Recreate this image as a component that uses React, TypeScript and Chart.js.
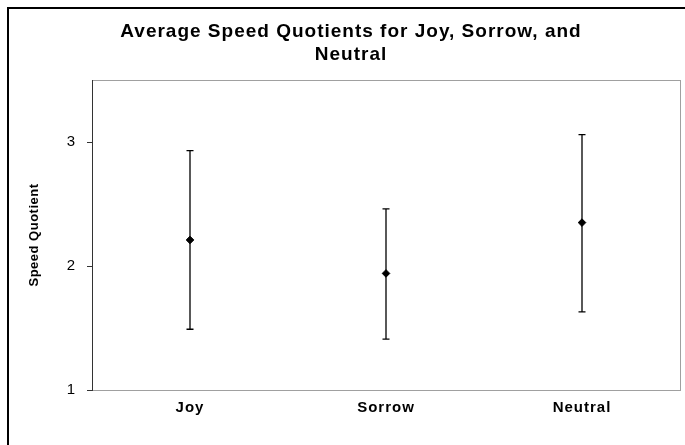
import React, { useEffect, useRef } from 'react';
import { Chart, registerables } from 'chart.js';

Chart.register(...registerables);

const categories = ['Joy', 'Sorrow', 'Neutral'];
const meanValues = [2.21, 1.94, 2.35];
const upperValues = [2.93, 2.46, 3.06];
const lowerValues = [1.49, 1.41, 1.63];
const yTickValues = [1, 2, 3];
const yMin = 1;
const yMax = 3.5;
const titleLines = ['Average Speed Quotients for Joy, Sorrow, and', 'Neutral'];
const yAxisTitle = 'Speed Quotient';

const FONT = "'Liberation Sans', Arial, sans-serif";

function spacingFor(font: string): string {
  if (font.includes('bold 19px')) return '1px';
  if (font.includes('bold 15px')) return '1px';
  if (font.includes('bold 13px')) return '0.5px';
  return '0px';
}

const framePlugin = {
  id: 'frame',
  beforeDraw(chart: any) {
    const ctx = chart.ctx;
    const { left, right, top, bottom } = chart.chartArea;
    ctx.save();
    ctx.fillStyle = '#ffffff';
    ctx.fillRect(0, 0, chart.width, chart.height);
    ctx.strokeStyle = '#000000';
    ctx.lineWidth = 2;
    ctx.strokeRect(8, 8, chart.width + 40, chart.height + 40);
    ctx.strokeStyle = '#a0a0a0';
    ctx.lineWidth = 1;
    ctx.strokeRect(Math.round(left) + 0.5, Math.round(top) + 0.5, Math.round(right - left), Math.round(bottom - top));
    ctx.restore();
  },
};

const errorBarPlugin = {
  id: 'errorBars',
  beforeDatasetsDraw(chart: any) {
    const ctx = chart.ctx;
    const xs = chart.scales.x;
    const ys = chart.scales.y;
    ctx.save();
    ctx.strokeStyle = '#000000';
    ctx.lineWidth = 1.3;
    categories.forEach((_, i) => {
      const px = xs.getPixelForValue(i);
      const yHi = ys.getPixelForValue(upperValues[i]);
      const yLo = ys.getPixelForValue(lowerValues[i]);
      ctx.beginPath();
      ctx.moveTo(px, yHi);
      ctx.lineTo(px, yLo);
      ctx.moveTo(px - 3.5, yHi);
      ctx.lineTo(px + 3.5, yHi);
      ctx.moveTo(px - 3.5, yLo);
      ctx.lineTo(px + 3.5, yLo);
      ctx.stroke();
    });
    ctx.restore();
  },
};

export default function App() {
  const canvasRef = useRef<HTMLCanvasElement | null>(null);

  useEffect(() => {
    const canvas = canvasRef.current;
    if (!canvas) return;
    const ctx2d: any = canvas.getContext('2d');
    if (ctx2d && !ctx2d.__spacingPatched) {
      const origFill = ctx2d.fillText.bind(ctx2d);
      ctx2d.fillText = (text: string, x: number, y: number, maxWidth?: number) => {
        ctx2d.letterSpacing = spacingFor(ctx2d.font);
        if (maxWidth === undefined) origFill(text, x, y);
        else origFill(text, x, y, maxWidth);
        ctx2d.letterSpacing = '0px';
      };
      ctx2d.__spacingPatched = true;
    }
    const chart = new Chart(canvas, {
      type: 'line',
      data: {
        labels: categories,
        datasets: [
          {
            data: meanValues,
            showLine: false,
            pointStyle: 'rectRot',
            pointRadius: 3.8,
            pointHoverRadius: 3.8,
            pointBackgroundColor: '#000000',
            pointBorderColor: '#000000',
            pointBorderWidth: 1,
            borderColor: '#000000',
            backgroundColor: '#000000',
          },
        ],
      },
      options: {
        animation: false,
        responsive: false,
        events: [],
        layout: { padding: { left: 22, right: 5, top: 0, bottom: 15 } },
        plugins: {
          legend: { display: false },
          tooltip: { enabled: false },
          title: {
            display: true,
            text: titleLines,
            color: '#000000',
            font: { family: FONT, size: 19, weight: 'bold', lineHeight: 23 / 19 },
            padding: { top: 20, bottom: 14 },
          },
        },
        scales: {
          x: {
            type: 'category',
            offset: true,
            grid: { display: false, drawTicks: false },
            border: { display: true, color: '#a0a0a0' },
            ticks: {
              color: '#000000',
              font: { family: FONT, size: 15, weight: 'bold' },
              padding: 9,
              maxRotation: 0,
              autoSkip: false,
            },
            afterFit: (s: any) => {
              s.height = 40;
            },
          },
          y: {
            type: 'linear',
            min: yMin,
            max: yMax,
            afterBuildTicks: (s: any) => {
              s.ticks = yTickValues.map((v) => ({ value: v }));
            },
            ticks: {
              color: '#000000',
              font: { family: FONT, size: 15 },
              padding: 12,
            },
            grid: { drawOnChartArea: false, drawTicks: true, tickLength: 5, color: '#333333' },
            border: { display: true, color: '#333333' },
            title: {
              display: true,
              text: yAxisTitle,
              color: '#000000',
              font: { family: FONT, size: 13, weight: 'bold' },
              padding: { top: 5, bottom: 0 },
            },
            afterFit: (s: any) => {
              s.width = 70;
            },
          },
        },
      },
      plugins: [framePlugin, errorBarPlugin],
    } as any);
    return () => chart.destroy();
  }, []);

  return (
    <div style={{ position: 'absolute', left: 0, top: 0, width: 685, height: 445, background: '#fff' }}>
      <canvas ref={canvasRef} width={685} height={445} style={{ display: 'block' }} />
    </div>
  );
}
